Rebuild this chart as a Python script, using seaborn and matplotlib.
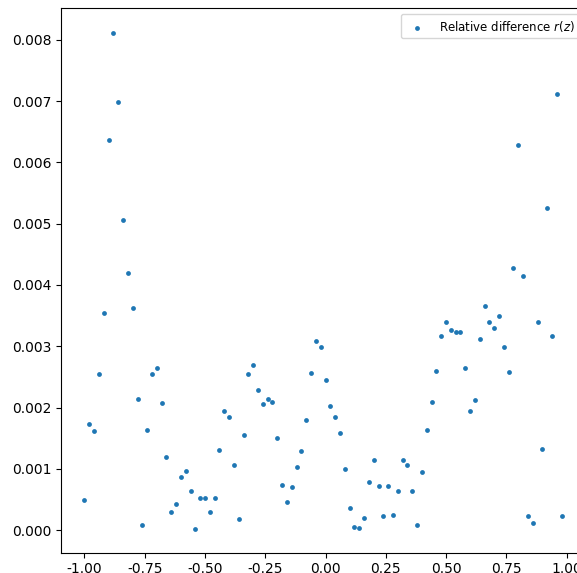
import matplotlib
matplotlib.use("Agg")
import matplotlib.pyplot as plt
import seaborn as sns
import pandas as pd

z_values = [
    -1.00, -0.98, -0.96, -0.94, -0.92, -0.90, -0.88, -0.86, -0.84, -0.82,
    -0.80, -0.78, -0.76, -0.74, -0.72, -0.70, -0.68, -0.66, -0.64, -0.62,
    -0.60, -0.58, -0.56, -0.54, -0.52, -0.50, -0.48, -0.46, -0.44, -0.42,
    -0.40, -0.38, -0.36, -0.34, -0.32, -0.30, -0.28, -0.26, -0.24, -0.22,
    -0.20, -0.18, -0.16, -0.14, -0.12, -0.10, -0.08, -0.06, -0.04, -0.02,
    0.00, 0.02, 0.04, 0.06, 0.08, 0.10, 0.12, 0.14, 0.16, 0.18,
    0.20, 0.22, 0.24, 0.26, 0.28, 0.30, 0.32, 0.34, 0.36, 0.38,
    0.40, 0.42, 0.44, 0.46, 0.48, 0.50, 0.52, 0.54, 0.56, 0.58,
    0.60, 0.62, 0.64, 0.66, 0.68, 0.70, 0.72, 0.74, 0.76, 0.78,
    0.80, 0.82, 0.84, 0.86, 0.88, 0.90, 0.92, 0.94, 0.96, 0.98,
]

r_values = [
    0.00049, 0.00173, 0.00162, 0.00255, 0.00354, 0.00637, 0.00812, 0.00699, 0.00506, 0.00420,
    0.00362, 0.00214, 0.00008, 0.00163, 0.00255, 0.00264, 0.00208, 0.00119, 0.00029, 0.00042,
    0.00086, 0.00096, 0.00063, 0.00002, 0.00053, 0.00053, 0.00030, 0.00053, 0.00130, 0.00194,
    0.00184, 0.00106, 0.00018, 0.00155, 0.00255, 0.00269, 0.00229, 0.00205, 0.00214, 0.00209,
    0.00150, 0.00074, 0.00045, 0.00070, 0.00103, 0.00129, 0.00180, 0.00256, 0.00309, 0.00298,
    0.00245, 0.00202, 0.00185, 0.00159, 0.00099, 0.00036, 0.00005, 0.00003, 0.00020, 0.00078,
    0.00114, 0.00072, 0.00023, 0.00072, 0.00024, 0.00064, 0.00114, 0.00106, 0.00063, 0.00008,
    0.00095, 0.00163, 0.00209, 0.00259, 0.00317, 0.00339, 0.00327, 0.00324, 0.00323, 0.00265,
    0.00195, 0.00213, 0.00312, 0.00365, 0.00339, 0.00329, 0.00349, 0.00299, 0.00258, 0.00428,
    0.00628, 0.00414, 0.00023, 0.00012, 0.00339, 0.00132, 0.00525, 0.00317, 0.00712, 0.00023,
]

series_label = "Relative difference $r(z)$"

df = pd.DataFrame({"z": z_values, "r": r_values})

fig = plt.figure(figsize=(5.77, 5.73), dpi=100)
ax = fig.add_axes([0.1057, 0.0354, 0.9085, 0.9506])

sns.scatterplot(data=df, x="z", y="r", ax=ax, s=12, color="#1f77b4",
                linewidth=0, label=series_label)

ax.set_xlabel("")
ax.set_ylabel("")
ax.set_xlim(-1.0975, 1.0775)
ax.set_ylim(-0.00037, 0.00852)
ax.set_xticks([-1.00, -0.75, -0.50, -0.25, 0.00, 0.25, 0.50, 0.75, 1.00])
ax.set_yticks([0.000, 0.001, 0.002, 0.003, 0.004, 0.005, 0.006, 0.007, 0.008])
ax.xaxis.set_major_formatter(matplotlib.ticker.FormatStrFormatter("%.2f"))
ax.yaxis.set_major_formatter(matplotlib.ticker.FormatStrFormatter("%.3f"))
ax.legend(loc="upper right", fontsize=8.5)

fig.savefig("out.png", dpi=100)
